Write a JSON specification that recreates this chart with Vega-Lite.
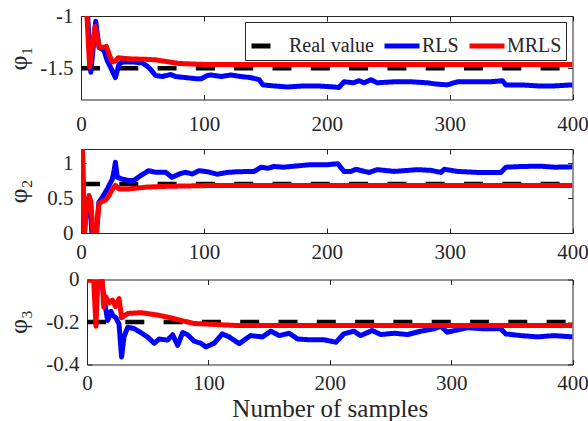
{
  "$schema": "https://vega.github.io/schema/vega-lite/v6.json",
  "padding": {"left": 4, "top": 4, "right": 0, "bottom": 0},
  "bounds": "flush",
  "spacing": 49,
  "config": {
    "font": "Liberation Serif",
    "view": {"stroke": "#262626", "strokeWidth": 1},
    "axis": {
      "domain": false,
      "grid": false,
      "tickColor": "#262626",
      "tickSize": -5,
      "tickWidth": 1,
      "labelFont": "Liberation Serif",
      "labelFontSize": 21,
      "labelColor": "#262626",
      "labelFlush": false,
      "labelOverlap": false,
      "labelBound": false,
      "titleFont": "Liberation Serif",
      "titleFontWeight": "normal",
      "titleColor": "#262626"
    },
    "legend": {
      "orient": "none",
      "legendX": 164,
      "legendY": 6,
      "direction": "horizontal",
      "strokeColor": "#262626",
      "fillColor": "#ffffff",
      "padding": 4,
      "symbolType": "stroke",
      "symbolSize": 1225,
      "symbolStrokeWidth": 5,
      "labelFont": "Liberation Serif",
      "labelFontSize": 20,
      "labelColor": "#262626",
      "labelOffset": 0,
      "columnPadding": 0
    }
  },
  "datasets": {
    "phi1": [
      {"series": "Real value", "n": 0, "value": -1.5},
      {"series": "Real value", "n": 400, "value": -1.5},
      {"series": "RLS", "n": 0, "value": -0.6},
      {"series": "RLS", "n": 5, "value": -0.9},
      {"series": "RLS", "n": 8, "value": -1.54},
      {"series": "RLS", "n": 12, "value": -1.05},
      {"series": "RLS", "n": 14.6, "value": -1.3},
      {"series": "RLS", "n": 18.7, "value": -1.33},
      {"series": "RLS", "n": 21.4, "value": -1.43},
      {"series": "RLS", "n": 24, "value": -1.49},
      {"series": "RLS", "n": 28, "value": -1.59},
      {"series": "RLS", "n": 31, "value": -1.46},
      {"series": "RLS", "n": 34, "value": -1.44},
      {"series": "RLS", "n": 42, "value": -1.44},
      {"series": "RLS", "n": 50, "value": -1.45},
      {"series": "RLS", "n": 55, "value": -1.49},
      {"series": "RLS", "n": 60.7, "value": -1.57},
      {"series": "RLS", "n": 66, "value": -1.58},
      {"series": "RLS", "n": 73, "value": -1.56},
      {"series": "RLS", "n": 77, "value": -1.58},
      {"series": "RLS", "n": 85, "value": -1.59},
      {"series": "RLS", "n": 93, "value": -1.6},
      {"series": "RLS", "n": 98, "value": -1.6},
      {"series": "RLS", "n": 103, "value": -1.57},
      {"series": "RLS", "n": 106, "value": -1.565},
      {"series": "RLS", "n": 114, "value": -1.58},
      {"series": "RLS", "n": 122, "value": -1.565},
      {"series": "RLS", "n": 130, "value": -1.58},
      {"series": "RLS", "n": 138, "value": -1.59},
      {"series": "RLS", "n": 145, "value": -1.61},
      {"series": "RLS", "n": 148, "value": -1.66},
      {"series": "RLS", "n": 157, "value": -1.67},
      {"series": "RLS", "n": 168, "value": -1.68},
      {"series": "RLS", "n": 181, "value": -1.67},
      {"series": "RLS", "n": 192.6, "value": -1.67},
      {"series": "RLS", "n": 206, "value": -1.68},
      {"series": "RLS", "n": 210, "value": -1.685},
      {"series": "RLS", "n": 214, "value": -1.63},
      {"series": "RLS", "n": 222, "value": -1.64},
      {"series": "RLS", "n": 226, "value": -1.62},
      {"series": "RLS", "n": 230.5, "value": -1.64},
      {"series": "RLS", "n": 236, "value": -1.61},
      {"series": "RLS", "n": 241, "value": -1.64},
      {"series": "RLS", "n": 255, "value": -1.63},
      {"series": "RLS", "n": 268.5, "value": -1.63},
      {"series": "RLS", "n": 282, "value": -1.64},
      {"series": "RLS", "n": 287.5, "value": -1.65},
      {"series": "RLS", "n": 298, "value": -1.66},
      {"series": "RLS", "n": 306.5, "value": -1.63},
      {"series": "RLS", "n": 320, "value": -1.63},
      {"series": "RLS", "n": 333.6, "value": -1.63},
      {"series": "RLS", "n": 343, "value": -1.62},
      {"series": "RLS", "n": 345.8, "value": -1.66},
      {"series": "RLS", "n": 358, "value": -1.66},
      {"series": "RLS", "n": 371.6, "value": -1.67},
      {"series": "RLS", "n": 385, "value": -1.67},
      {"series": "RLS", "n": 400, "value": -1.66},
      {"series": "MRLS", "n": 0, "value": -0.5},
      {"series": "MRLS", "n": 4, "value": -0.8},
      {"series": "MRLS", "n": 7, "value": -1.49},
      {"series": "MRLS", "n": 11.5, "value": -1.1},
      {"series": "MRLS", "n": 15, "value": -1.3},
      {"series": "MRLS", "n": 19, "value": -1.3},
      {"series": "MRLS", "n": 20.6, "value": -1.29},
      {"series": "MRLS", "n": 23, "value": -1.37},
      {"series": "MRLS", "n": 25.5, "value": -1.44},
      {"series": "MRLS", "n": 28, "value": -1.43},
      {"series": "MRLS", "n": 30.3, "value": -1.4},
      {"series": "MRLS", "n": 39, "value": -1.41},
      {"series": "MRLS", "n": 52.6, "value": -1.415},
      {"series": "MRLS", "n": 60.7, "value": -1.42},
      {"series": "MRLS", "n": 71.6, "value": -1.44},
      {"series": "MRLS", "n": 79.7, "value": -1.455},
      {"series": "MRLS", "n": 91, "value": -1.46},
      {"series": "MRLS", "n": 104, "value": -1.465},
      {"series": "MRLS", "n": 200, "value": -1.465},
      {"series": "MRLS", "n": 400, "value": -1.465}
    ],
    "phi2": [
      {"series": "Real value", "n": 0, "value": 0.7},
      {"series": "Real value", "n": 400, "value": 0.7},
      {"series": "RLS", "n": 0, "value": 1.4},
      {"series": "RLS", "n": 1, "value": 1.4},
      {"series": "RLS", "n": 2.5, "value": -0.05},
      {"series": "RLS", "n": 5, "value": 0.45},
      {"series": "RLS", "n": 7, "value": 0.5},
      {"series": "RLS", "n": 9, "value": -0.05},
      {"series": "RLS", "n": 12, "value": -0.05},
      {"series": "RLS", "n": 14.6, "value": 0.44},
      {"series": "RLS", "n": 17.4, "value": 0.51},
      {"series": "RLS", "n": 21.4, "value": 0.63},
      {"series": "RLS", "n": 25.5, "value": 0.77},
      {"series": "RLS", "n": 27, "value": 0.9},
      {"series": "RLS", "n": 28, "value": 1.01},
      {"series": "RLS", "n": 29.6, "value": 0.795},
      {"series": "RLS", "n": 33.6, "value": 0.77},
      {"series": "RLS", "n": 39, "value": 0.75},
      {"series": "RLS", "n": 43, "value": 0.75},
      {"series": "RLS", "n": 48.5, "value": 0.82},
      {"series": "RLS", "n": 55, "value": 0.89},
      {"series": "RLS", "n": 60.7, "value": 0.867},
      {"series": "RLS", "n": 69, "value": 0.867},
      {"series": "RLS", "n": 74, "value": 0.795},
      {"series": "RLS", "n": 80, "value": 0.843},
      {"series": "RLS", "n": 85, "value": 0.867},
      {"series": "RLS", "n": 90.6, "value": 0.843},
      {"series": "RLS", "n": 96, "value": 0.89},
      {"series": "RLS", "n": 103, "value": 0.875},
      {"series": "RLS", "n": 111, "value": 0.84},
      {"series": "RLS", "n": 119, "value": 0.865},
      {"series": "RLS", "n": 127, "value": 0.875},
      {"series": "RLS", "n": 141, "value": 0.88},
      {"series": "RLS", "n": 146.5, "value": 0.94},
      {"series": "RLS", "n": 152, "value": 0.925},
      {"series": "RLS", "n": 157, "value": 0.95},
      {"series": "RLS", "n": 165, "value": 0.94},
      {"series": "RLS", "n": 173.6, "value": 0.955},
      {"series": "RLS", "n": 187, "value": 0.976},
      {"series": "RLS", "n": 200.7, "value": 0.976},
      {"series": "RLS", "n": 209, "value": 0.99},
      {"series": "RLS", "n": 214, "value": 0.88},
      {"series": "RLS", "n": 219.6, "value": 0.88},
      {"series": "RLS", "n": 223.8, "value": 0.91},
      {"series": "RLS", "n": 230.6, "value": 0.88},
      {"series": "RLS", "n": 234.6, "value": 0.865},
      {"series": "RLS", "n": 241, "value": 0.905},
      {"series": "RLS", "n": 255, "value": 0.88},
      {"series": "RLS", "n": 274, "value": 0.905},
      {"series": "RLS", "n": 284.8, "value": 0.895},
      {"series": "RLS", "n": 293, "value": 0.865},
      {"series": "RLS", "n": 295.6, "value": 0.91},
      {"series": "RLS", "n": 306.5, "value": 0.88},
      {"series": "RLS", "n": 322.8, "value": 0.865},
      {"series": "RLS", "n": 341.7, "value": 0.865},
      {"series": "RLS", "n": 345.8, "value": 0.94},
      {"series": "RLS", "n": 358, "value": 0.95},
      {"series": "RLS", "n": 374, "value": 0.955},
      {"series": "RLS", "n": 385, "value": 0.94},
      {"series": "RLS", "n": 400, "value": 0.945},
      {"series": "MRLS", "n": 0, "value": 1.4},
      {"series": "MRLS", "n": 1, "value": 1.4},
      {"series": "MRLS", "n": 2.5, "value": -0.05},
      {"series": "MRLS", "n": 4.5, "value": 0.35},
      {"series": "MRLS", "n": 6.5, "value": 0.535},
      {"series": "MRLS", "n": 8, "value": 0.45},
      {"series": "MRLS", "n": 10, "value": -0.05},
      {"series": "MRLS", "n": 12.5, "value": -0.05},
      {"series": "MRLS", "n": 14.6, "value": 0.42},
      {"series": "MRLS", "n": 17, "value": 0.45},
      {"series": "MRLS", "n": 20, "value": 0.47},
      {"series": "MRLS", "n": 22.8, "value": 0.535},
      {"series": "MRLS", "n": 25, "value": 0.61},
      {"series": "MRLS", "n": 28, "value": 0.68},
      {"series": "MRLS", "n": 31, "value": 0.63},
      {"series": "MRLS", "n": 39, "value": 0.63},
      {"series": "MRLS", "n": 52.6, "value": 0.655},
      {"series": "MRLS", "n": 66, "value": 0.665},
      {"series": "MRLS", "n": 80, "value": 0.67},
      {"series": "MRLS", "n": 104, "value": 0.678},
      {"series": "MRLS", "n": 150, "value": 0.68},
      {"series": "MRLS", "n": 400, "value": 0.68}
    ],
    "phi3": [
      {"series": "Real value", "n": 0, "value": -0.2},
      {"series": "Real value", "n": 400, "value": -0.2},
      {"series": "RLS", "n": 0, "value": 0.05},
      {"series": "RLS", "n": 7.2, "value": 0.05},
      {"series": "RLS", "n": 11.25, "value": 0.03},
      {"series": "RLS", "n": 14.3, "value": -0.1},
      {"series": "RLS", "n": 17, "value": -0.193},
      {"series": "RLS", "n": 19.75, "value": -0.15},
      {"series": "RLS", "n": 21.4, "value": -0.17},
      {"series": "RLS", "n": 23.9, "value": -0.18},
      {"series": "RLS", "n": 26.4, "value": -0.21},
      {"series": "RLS", "n": 28.5, "value": -0.365},
      {"series": "RLS", "n": 30.5, "value": -0.27},
      {"series": "RLS", "n": 33.5, "value": -0.225},
      {"series": "RLS", "n": 38.6, "value": -0.23},
      {"series": "RLS", "n": 44.4, "value": -0.25},
      {"series": "RLS", "n": 49.7, "value": -0.27},
      {"series": "RLS", "n": 55.4, "value": -0.3},
      {"series": "RLS", "n": 59.4, "value": -0.28},
      {"series": "RLS", "n": 66.4, "value": -0.285},
      {"series": "RLS", "n": 70.6, "value": -0.26},
      {"series": "RLS", "n": 74.7, "value": -0.31},
      {"series": "RLS", "n": 78.8, "value": -0.25},
      {"series": "RLS", "n": 82.9, "value": -0.26},
      {"series": "RLS", "n": 88.2, "value": -0.29},
      {"series": "RLS", "n": 93.8, "value": -0.3},
      {"series": "RLS", "n": 98, "value": -0.317},
      {"series": "RLS", "n": 104.9, "value": -0.3},
      {"series": "RLS", "n": 111.4, "value": -0.256},
      {"series": "RLS", "n": 117.1, "value": -0.27},
      {"series": "RLS", "n": 125.4, "value": -0.302},
      {"series": "RLS", "n": 134.7, "value": -0.264},
      {"series": "RLS", "n": 144.6, "value": -0.27},
      {"series": "RLS", "n": 151.5, "value": -0.243},
      {"series": "RLS", "n": 158.4, "value": -0.264},
      {"series": "RLS", "n": 166.6, "value": -0.253},
      {"series": "RLS", "n": 173.5, "value": -0.28},
      {"series": "RLS", "n": 184.3, "value": -0.284},
      {"series": "RLS", "n": 195.5, "value": -0.284},
      {"series": "RLS", "n": 205.1, "value": -0.295},
      {"series": "RLS", "n": 211.6, "value": -0.256},
      {"series": "RLS", "n": 219.7, "value": -0.243},
      {"series": "RLS", "n": 225.4, "value": -0.264},
      {"series": "RLS", "n": 234.9, "value": -0.24},
      {"series": "RLS", "n": 242, "value": -0.259},
      {"series": "RLS", "n": 253.1, "value": -0.253},
      {"series": "RLS", "n": 264.1, "value": -0.259},
      {"series": "RLS", "n": 275, "value": -0.243},
      {"series": "RLS", "n": 286, "value": -0.232},
      {"series": "RLS", "n": 291.6, "value": -0.22},
      {"series": "RLS", "n": 296.7, "value": -0.248},
      {"series": "RLS", "n": 305.3, "value": -0.237},
      {"series": "RLS", "n": 313.5, "value": -0.227},
      {"series": "RLS", "n": 327, "value": -0.232},
      {"series": "RLS", "n": 340.9, "value": -0.232},
      {"series": "RLS", "n": 345, "value": -0.256},
      {"series": "RLS", "n": 357.4, "value": -0.264},
      {"series": "RLS", "n": 371.2, "value": -0.27},
      {"series": "RLS", "n": 384.7, "value": -0.264},
      {"series": "RLS", "n": 400, "value": -0.27},
      {"series": "MRLS", "n": 0, "value": -0.004},
      {"series": "MRLS", "n": 5.5, "value": -0.004},
      {"series": "MRLS", "n": 7.4, "value": -0.22},
      {"series": "MRLS", "n": 9.5, "value": 0.08},
      {"series": "MRLS", "n": 12, "value": 0.06},
      {"series": "MRLS", "n": 13.8, "value": -0.13},
      {"series": "MRLS", "n": 15.3, "value": -0.08},
      {"series": "MRLS", "n": 18.1, "value": -0.11},
      {"series": "MRLS", "n": 20.9, "value": -0.097},
      {"series": "MRLS", "n": 23.4, "value": -0.127},
      {"series": "MRLS", "n": 26.4, "value": -0.09},
      {"series": "MRLS", "n": 28.5, "value": -0.18},
      {"series": "MRLS", "n": 33.5, "value": -0.16},
      {"series": "MRLS", "n": 44.4, "value": -0.156},
      {"series": "MRLS", "n": 57.8, "value": -0.167},
      {"series": "MRLS", "n": 66.4, "value": -0.177},
      {"series": "MRLS", "n": 77, "value": -0.192},
      {"series": "MRLS", "n": 88.2, "value": -0.207},
      {"series": "MRLS", "n": 99.3, "value": -0.21},
      {"series": "MRLS", "n": 121.6, "value": -0.216},
      {"series": "MRLS", "n": 200, "value": -0.216},
      {"series": "MRLS", "n": 400, "value": -0.216}
    ]
  },
  "vconcat": [
    {
      "width": 491.5,
      "height": 83.5,
      "data": {"name": "phi1"},
      "layer": [
        {
          "transform": [{"filter": "datum.series === 'Real value'"}],
          "mark": {"type": "line", "clip": true, "strokeWidth": 4.5, "strokeCap": "butt"},
          "encoding": {
            "x": {"field": "n", "type": "quantitative", "scale": {"domain": [0, 400], "nice": false}, "axis": {"orient": "top", "values": [0, 100, 200, 300, 400], "labels": false, "title": null}},
            "y": {"field": "value", "type": "quantitative", "scale": {"domain": [-1.8, -1], "nice": false, "zero": false}, "axis": {"orient": "right", "values": [-1.5, -1], "labels": false, "title": null}},
            "color": {"field": "series", "type": "nominal", "title": null, "scale": {"domain": ["Real value", "RLS", "MRLS"], "range": ["#000000", "#0000ff", "#ff0000"]}},
            "strokeDash": {"field": "series", "type": "nominal", "title": null, "scale": {"domain": ["Real value", "RLS", "MRLS"], "range": [[19, 19.3], [1, 0], [1, 0]]}}
          }
        },
        {
          "transform": [{"filter": "datum.series === 'RLS'"}],
          "mark": {"type": "line", "clip": true, "strokeWidth": 5, "strokeJoin": "round"},
          "encoding": {
            "x": {"field": "n", "type": "quantitative", "scale": {"domain": [0, 400], "nice": false}, "axis": {"orient": "bottom", "values": [0, 100, 200, 300, 400], "labelPadding": 18.5, "title": null}},
            "y": {"field": "value", "type": "quantitative", "scale": {"domain": [-1.8, -1], "nice": false, "zero": false}, "axis": {"orient": "left", "values": [-1.5, -1], "format": ".2~f", "labelExpr": "replace(datum.label, '−', '-')", "labelPadding": 13, "title": "φ₁", "titleFontSize": 26, "titleX": -50, "titleY": 42}},
            "color": {"field": "series", "type": "nominal", "title": null},
            "strokeDash": {"field": "series", "type": "nominal", "title": null}
          }
        },
        {
          "transform": [{"filter": "datum.series === 'MRLS'"}],
          "mark": {"type": "line", "clip": true, "strokeWidth": 5, "strokeJoin": "round"},
          "encoding": {
            "x": {"field": "n", "type": "quantitative", "scale": {"domain": [0, 400], "nice": false}, "axis": null},
            "y": {"field": "value", "type": "quantitative", "scale": {"domain": [-1.8, -1], "nice": false, "zero": false}, "axis": null},
            "color": {"field": "series", "type": "nominal", "title": null},
            "strokeDash": {"field": "series", "type": "nominal", "title": null}
          }
        }
      ],
      "resolve": {"axis": {"x": "independent", "y": "independent"}}
    },
    {
      "bounds": "flush",
      "spacing": 46.5,
      "vconcat": [
        {
          "width": 491.5,
          "height": 84,
          "data": {"name": "phi2"},
          "layer": [
            {
              "transform": [{"filter": "datum.series === 'Real value'"}],
              "mark": {"type": "line", "clip": true, "strokeWidth": 4.5, "strokeCap": "butt"},
              "encoding": {
                "x": {"field": "n", "type": "quantitative", "scale": {"domain": [0, 400], "nice": false}, "axis": {"orient": "top", "values": [0, 100, 200, 300, 400], "labels": false, "title": null}},
                "y": {"field": "value", "type": "quantitative", "scale": {"domain": [0, 1.2], "nice": false}, "axis": {"orient": "right", "values": [0, 0.5, 1], "labels": false, "title": null}},
                "color": {"field": "series", "type": "nominal", "title": null},
                "strokeDash": {"field": "series", "type": "nominal", "title": null}
              }
            },
            {
              "transform": [{"filter": "datum.series === 'RLS'"}],
              "mark": {"type": "line", "clip": true, "strokeWidth": 5, "strokeJoin": "round"},
              "encoding": {
                "x": {"field": "n", "type": "quantitative", "scale": {"domain": [0, 400], "nice": false}, "axis": {"orient": "bottom", "values": [0, 100, 200, 300, 400], "labelPadding": 13.8, "title": null}},
                "y": {"field": "value", "type": "quantitative", "scale": {"domain": [0, 1.2], "nice": false}, "axis": {"orient": "left", "values": [0, 0.5, 1], "format": ".2~f", "labelPadding": 13, "title": "φ₂", "titleFontSize": 26, "titleX": -50, "titleY": 42}},
                "color": {"field": "series", "type": "nominal", "title": null},
                "strokeDash": {"field": "series", "type": "nominal", "title": null}
              }
            },
            {
              "transform": [{"filter": "datum.series === 'MRLS'"}],
              "mark": {"type": "line", "clip": true, "strokeWidth": 5, "strokeJoin": "round"},
              "encoding": {
                "x": {"field": "n", "type": "quantitative", "scale": {"domain": [0, 400], "nice": false}, "axis": null},
                "y": {"field": "value", "type": "quantitative", "scale": {"domain": [0, 1.2], "nice": false}, "axis": null},
                "color": {"field": "series", "type": "nominal", "title": null},
                "strokeDash": {"field": "series", "type": "nominal", "title": null}
              }
            }
          ],
          "resolve": {"axis": {"x": "independent", "y": "independent"}}
        },
        {
          "bounds": "flush",
          "spacing": 5,
          "hconcat": [
            {
              "width": 1,
              "height": 85,
              "data": {"values": []},
              "mark": "point",
              "view": {"stroke": null}
            },
            {
              "width": 485.5,
              "height": 85,
              "data": {"name": "phi3"},
              "layer": [
                {
                  "transform": [{"filter": "datum.series === 'Real value'"}],
                  "mark": {"type": "line", "clip": true, "strokeWidth": 4.5, "strokeCap": "butt"},
                  "encoding": {
                    "x": {"field": "n", "type": "quantitative", "scale": {"domain": [0, 400], "nice": false}, "axis": {"orient": "top", "values": [0, 100, 200, 300, 400], "labels": false, "title": null}},
                    "y": {"field": "value", "type": "quantitative", "scale": {"domain": [-0.4, 0], "nice": false}, "axis": {"orient": "right", "values": [-0.4, -0.2, 0], "labels": false, "title": null}},
                    "color": {"field": "series", "type": "nominal", "title": null},
                    "strokeDash": {"field": "series", "type": "nominal", "title": null}
                  }
                },
                {
                  "transform": [{"filter": "datum.series === 'RLS'"}],
                  "mark": {"type": "line", "clip": true, "strokeWidth": 5, "strokeJoin": "round"},
                  "encoding": {
                    "x": {"field": "n", "type": "quantitative", "scale": {"domain": [0, 400], "nice": false}, "axis": {"orient": "bottom", "values": [0, 100, 200, 300, 400], "labelPadding": 12.5, "title": "Number of samples", "titleFontSize": 25, "titleBaseline": "top", "titleX": 242.75, "titleY": 31.5}},
                    "y": {"field": "value", "type": "quantitative", "scale": {"domain": [-0.4, 0], "nice": false}, "axis": {"orient": "left", "values": [-0.4, -0.2, 0], "format": ".2~f", "labelExpr": "replace(datum.label, '−', '-')", "labelPadding": 13, "title": "φ₃", "titleFontSize": 26, "titleX": -56, "titleY": 42}},
                    "color": {"field": "series", "type": "nominal", "title": null},
                    "strokeDash": {"field": "series", "type": "nominal", "title": null}
                  }
                },
                {
                  "transform": [{"filter": "datum.series === 'MRLS'"}],
                  "mark": {"type": "line", "clip": true, "strokeWidth": 5, "strokeJoin": "round"},
                  "encoding": {
                    "x": {"field": "n", "type": "quantitative", "scale": {"domain": [0, 400], "nice": false}, "axis": null},
                    "y": {"field": "value", "type": "quantitative", "scale": {"domain": [-0.4, 0], "nice": false}, "axis": null},
                    "color": {"field": "series", "type": "nominal", "title": null},
                    "strokeDash": {"field": "series", "type": "nominal", "title": null}
                  }
                }
              ],
              "resolve": {"axis": {"x": "independent", "y": "independent"}}
            }
          ]
        }
      ]
    }
  ]
}
